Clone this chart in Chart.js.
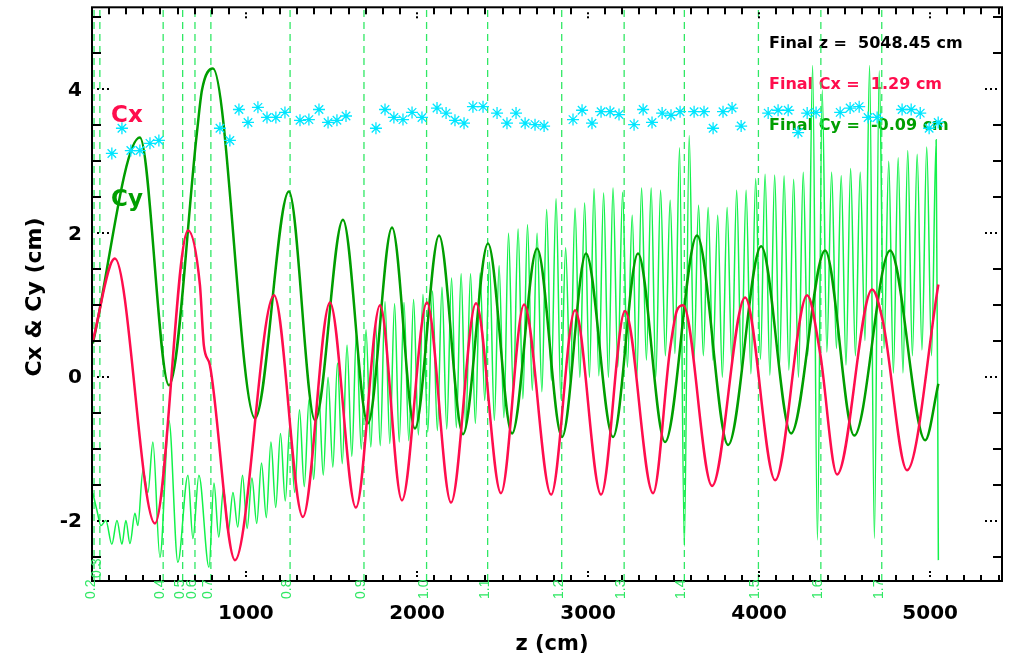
<!DOCTYPE html>
<html>
<head>
<meta charset="utf-8">
<title>Cx & Cy vs z</title>
<script src="https://cdn.jsdelivr.net/npm/chart.js@4.4.1/dist/chart.umd.min.js"></script>
<style>
  body { margin: 0; background: #fff; }
  #wrap { width: 1011px; height: 658px; }
</style>
</head>
<body>
<div id="wrap"><canvas id="chart" width="1011" height="658"></canvas></div>
<script>
// axis ranges and tick labels
const xMin = 100, xMax = 5420;
const yMin = -2.83, yMax = 5.14;
const xTickLabels = [1000, 2000, 3000, 4000, 5000];
const yTickLabels = [-2, 0, 2, 4];
const xMinorStep = 100;
const yMinorStep = 0.5;

// Cx (red)
const cxZ = [105, 234, 468, 661, 731, 754, 789, 936, 1164, 1333, 1491, 1643, 1784, 1912, 2058, 2199,
  2345, 2491, 2626, 2784, 2924, 3076, 3216, 3380, 3480, 3520, 3556, 3725, 3918, 4094, 4281, 4357,
  4456, 4661, 4725, 4865, 5048];
const cxV = [0.51, 1.65, -2.03, 2.04, 1.28, 0.44, 0.17, -2.54, 1.14, -1.94, 1.04, -1.81, 1.0, -1.71, 1.04, -1.74,
  1.03, -1.61, 1.01, -1.63, 0.93, -1.63, 0.92, -1.61, 0.40, 0.93, 1.0, -1.51, 1.11, -1.43, 1.14, 0.33,
  -1.35, 1.22, 0.76, -1.29, 1.29];

// Cy (dark green)
const cyZ = [105, 380, 550, 713, 743, 807, 1053, 1251, 1404, 1567, 1713, 1854, 1988, 2129, 2269, 2415,
  2556, 2702, 2848, 2988, 3146, 3292, 3450, 3637, 3819, 4012, 4187, 4386, 4556, 4766, 4971, 5048];
const cyV = [0.47, 3.33, -0.11, 3.39, 3.99, 4.29, -0.57, 2.58, -0.6, 2.19, -0.64, 2.08, -0.71, 1.97, -0.79, 1.86,
  -0.78, 1.79, -0.83, 1.72, -0.83, 1.72, -0.9, 1.97, -0.94, 1.82, -0.78, 1.76, -0.81, 1.76, -0.875, -0.09];

// fast oscillation (light green)
const lgZ = [105, 129, 152, 181, 216, 246, 275, 298, 322, 351, 368, 398, 427, 456, 497, 550, 602, 661, 690, 725, 784,
  813, 841, 869, 896, 924, 952, 980, 1007, 1035, 1063, 1091, 1119, 1146, 1174, 1202, 1230, 1257, 1285, 1313, 1341,
  1369, 1396, 1424, 1452, 1480, 1508, 1535, 1563, 1591, 1619, 1646, 1674, 1702, 1730, 1758, 1785, 1813, 1841, 1869, 1896,
  1924, 1952, 1980, 2008, 2035, 2063, 2091, 2119, 2146, 2174, 2202, 2230, 2258, 2285, 2313, 2341, 2369, 2396, 2424, 2452,
  2480, 2508, 2535, 2563, 2591, 2619, 2646, 2674, 2702, 2730, 2758, 2785, 2813, 2841, 2869, 2896, 2924, 2952, 2980, 3008,
  3035, 3063, 3091, 3119, 3146, 3174, 3202, 3230, 3258, 3285, 3313, 3341, 3369, 3396, 3424, 3452, 3480, 3508, 3535, 3563,
  3591, 3619, 3646, 3674, 3702, 3730, 3758, 3785, 3813, 3841, 3869, 3896, 3924, 3952, 3980, 4008, 4035, 4063, 4091, 4119,
  4146, 4174, 4202, 4230, 4258, 4285, 4313, 4341, 4369, 4396, 4424, 4452, 4480, 4508, 4535, 4563, 4591, 4619, 4646, 4674,
  4702, 4730, 4758, 4785, 4813, 4841, 4869, 4896, 4924, 4952, 4980, 5008, 5035, 5048];
const lgV = [-1.61, -1.85, -2.06, -1.99, -2.32, -1.99, -2.32, -1.99, -2.31, -1.89, -2.06, -1.29, -1.6, -0.9, -2.5, -0.6, -2.57, -1.36, -2.24, -1.36, -2.64,
  -1.47, -2.22, -1.55, -2.15, -1.6, -2.08, -1.36, -2.1, -1.4, -2.03, -1.19, -1.95, -0.9, -1.81, -0.78, -1.72, -0.65, -1.6, -0.45, -1.52,
  -0.3, -1.42, -0.15, -1.36, 0.0, -1.25, 0.2, -1.2, 0.45, -1.1, 0.62, -1.0, 0.66, -0.97, 0.75, -0.95, 1.05, -0.92, 1.02, -0.9,
  1.04, -0.88, 1.08, -0.8, 1.15, -0.76, 1.2, -0.74, 1.25, -0.72, 1.38, -0.7, 1.44, -0.68, 1.44, -0.64, 1.45, -0.32, 1.6, -0.6,
  1.55, -0.56, 2.0, -0.22, 2.06, -0.3, 2.12, -0.18, 2.0, -0.2, 2.33, -0.04, 2.48, -0.3, 1.8, -0.08, 2.35, 0.0, 2.42, 0.0,
  2.62, 0.02, 2.56, 0.0, 2.63, 0.14, 2.57, 0.14, 2.25, 0.0, 2.63, 0.24, 2.63, 0.0, 2.6, 0.3, 2.46, 0.33, 3.19, -2.35,
  3.36, 0.25, 2.39, 0.3, 2.36, 0.24, 2.25, 0.0, 2.36, 0.2, 2.6, 0.1, 2.6, 0.05, 2.76, 0.25, 2.82, 0.03, 2.81, 0.15,
  2.8, 0.1, 2.75, 0.0, 2.85, 0.3, 4.33, -2.26, 3.99, 0.35, 2.85, 0.4, 2.8, 0.17, 2.9, 0.3, 2.85, 0.51, 4.33, -2.24,
  4.26, 0.4, 3.0, 0.06, 3.05, 0.06, 3.15, 0.3, 3.1, 0.38, 3.2, 0.3, 3.3, -2.54];

// cyan asterisks
const starZ = [216, 275, 327, 380, 439, 491, 848, 906, 959, 1012, 1070, 1123, 1175, 1228, 1316, 1368, 1427, 1480, 1532, 1585,
  1760, 1813, 1865, 1918, 1971, 2029, 2117, 2170, 2222, 2275, 2327, 2386, 2468, 2526, 2579, 2632, 2690, 2743,
  2912, 2965, 3023, 3076, 3129, 3181, 3269, 3322, 3374, 3433, 3485, 3538, 3620, 3678, 3731, 3789, 3842, 3895,
  4053, 4111, 4170, 4228, 4281, 4333, 4474, 4532, 4585, 4637, 4690, 4836, 4889, 4942, 4994, 5047];
const starV = [3.11, 3.46, 3.15, 3.15, 3.25, 3.29, 3.46, 3.29, 3.72, 3.54, 3.75, 3.61, 3.61, 3.68, 3.57, 3.58, 3.72, 3.54, 3.57, 3.63,
  3.46, 3.72, 3.61, 3.58, 3.68, 3.61, 3.74, 3.67, 3.57, 3.53, 3.76, 3.76, 3.67, 3.53, 3.67, 3.53, 3.51, 3.49,
  3.58, 3.71, 3.53, 3.69, 3.69, 3.65, 3.51, 3.72, 3.54, 3.67, 3.64, 3.69, 3.69, 3.69, 3.46, 3.69, 3.74, 3.49,
  3.67, 3.71, 3.71, 3.40, 3.67, 3.68, 3.68, 3.74, 3.76, 3.61, 3.61, 3.72, 3.72, 3.67, 3.46, 3.54];

// dashed markers and their labels
const markZ = [112, 146, 516, 630, 702, 795, 1258, 1690, 2056, 2413, 2846, 3211, 3563, 3996, 4361, 4717];
const markLabels = ["0.2", "0.3", "0.4", "0.5", "0.6", "0.7", "0.8", "0.9", "1.0", "1.1", "1.2", "1.3", "1.4", "1.5", "1.6", "1.7"];

const finalZ = "5048.45", finalCx = "1.29", finalCy = "-0.09";

const RED = "#ff0d4d";
const GREEN = "#009e00";
const LIGHT = "#12f24a";
const DASH = "#30e864";
const CYAN = "#00e6ff";
const FONT = "'DejaVu Sans', 'Liberation Sans', sans-serif";

function pts(zs, vs) {
    return zs.map((z, i) => ({ x: z, y: vs[i] }));
}

// vertical dashed lines, broken with nulls
const markData = [];
markZ.forEach(z => {
    markData.push({ x: z, y: yMin }, { x: z, y: yMax }, { x: z, y: null });
});

const textPlugin = {
    id: "texts",
    beforeDatasetsDraw(chart) {
        const ctx = chart.ctx;
        ctx.save();
        ctx.textAlign = "left";
        ctx.textBaseline = "alphabetic";
        ctx.font = "bold 23px " + FONT;
        ctx.fillStyle = RED;
        ctx.fillText("Cx", 111, 122);
        ctx.fillStyle = GREEN;
        ctx.fillText("Cy", 111, 206);

        ctx.font = "bold 16px " + FONT;
        ctx.fillStyle = "#000";
        ctx.fillText("Final z =  " + finalZ + " cm", 769, 48);
        ctx.fillStyle = RED;
        ctx.fillText("Final Cx =  " + finalCx + " cm", 769, 89);
        ctx.fillStyle = GREEN;
        ctx.fillText("Final Cy =  " + finalCy + " cm", 769, 130);
        ctx.restore();
    },
    afterDraw(chart) {
        const { ctx, chartArea: a, scales: { x, y } } = chart;
        ctx.save();

        // frame
        ctx.strokeStyle = "#000";
        ctx.lineWidth = 2;
        ctx.strokeRect(a.left, a.top, a.right - a.left, a.bottom - a.top);

        // x ticks (minor solid, major dotted)
        ctx.fillStyle = "#000";
        for (let v = xMin + xMinorStep; v < xMax; v += xMinorStep) {
            const px = Math.round(x.getPixelForValue(v));
            if (v % 1000 === 0) {
                ctx.fillRect(px - 1, a.bottom - 10, 2, 2);
                ctx.fillRect(px - 1, a.bottom - 6, 2, 2);
                ctx.fillRect(px - 1, a.top + 5, 2, 2);
                ctx.fillRect(px - 1, a.top + 9, 2, 2);
            } else {
                ctx.fillRect(px - 1, a.bottom - 6, 2, 6);
                ctx.fillRect(px - 1, a.top, 2, 7);
            }
        }
        // y ticks
        for (let v = -2.5; v <= 5.0001; v += yMinorStep) {
            const py = Math.round(y.getPixelForValue(v));
            if (yTickLabels.includes(Math.round(v * 100) / 100)) {
                [5, 10, 15].forEach(d => {
                    ctx.fillRect(a.left + d, py - 1, 2, 2);
                    ctx.fillRect(a.right - d - 2, py - 1, 2, 2);
                });
            } else {
                ctx.fillRect(a.left, py - 1, 9, 2);
                ctx.fillRect(a.right - 9, py - 1, 9, 2);
            }
        }

        // tick labels
        ctx.font = "bold 20px " + FONT;
        ctx.fillStyle = "#000";
        ctx.textAlign = "center";
        ctx.textBaseline = "alphabetic";
        xTickLabels.forEach(v => ctx.fillText(String(v), x.getPixelForValue(v), 619));
        ctx.textAlign = "right";
        ctx.textBaseline = "middle";
        yTickLabels.forEach(v => ctx.fillText(String(v), 82, y.getPixelForValue(v) + 1));

        // axis titles
        ctx.textAlign = "center";
        ctx.textBaseline = "alphabetic";
        ctx.font = "bold 21px " + FONT;
        ctx.fillText("z (cm)", (a.left + a.right) / 2 + 5, 650);
        ctx.save();
        ctx.font = "bold 22px " + FONT;
        ctx.translate(41, 297);
        ctx.rotate(-Math.PI / 2);
        ctx.fillText("Cx & Cy (cm)", 0, 0);
        ctx.restore();

        // marker labels, rotated
        ctx.font = "14px 'Liberation Sans', sans-serif";
        ctx.fillStyle = DASH;
        ctx.textAlign = "left";
        markZ.forEach((z, i) => {
            const px = x.getPixelForValue(z);
            const base = i === 1 ? 578 : 599;
            ctx.save();
            ctx.translate(px + 1, base);
            ctx.rotate(-Math.PI / 2);
            ctx.fillText(markLabels[i], 0, 0);
            ctx.restore();
        });

        ctx.restore();
    }
};

new Chart(document.getElementById("chart"), {
    type: "line",
    data: {
        datasets: [
            {
                label: "stars",
                data: pts(starZ, starV),
                showLine: false,
                pointStyle: "star",
                pointRadius: 6,
                borderColor: CYAN,
                backgroundColor: CYAN,
                pointBorderWidth: 1.3,
                order: 0
            },
            {
                label: "Cx",
                data: pts(cxZ, cxV),
                borderColor: RED,
                borderWidth: 2.5,
                pointRadius: 0,
                cubicInterpolationMode: "monotone",
                order: 1
            },
            {
                label: "Cy",
                data: pts(cyZ, cyV),
                borderColor: GREEN,
                borderWidth: 2.5,
                pointRadius: 0,
                cubicInterpolationMode: "monotone",
                order: 2
            },
            {
                label: "osc",
                data: pts(lgZ, lgV),
                borderColor: LIGHT,
                borderWidth: 1.5,
                pointRadius: 0,
                cubicInterpolationMode: "monotone",
                order: 3
            },
            {
                label: "marks",
                data: markData,
                borderColor: DASH,
                borderWidth: 1.3,
                borderDash: [7, 5],
                pointRadius: 0,
                spanGaps: false,
                order: 4
            }
        ]
    },
    options: {
        responsive: false,
        animation: false,
        layout: { padding: { left: 92, right: 9, top: 7, bottom: 77 } },
        plugins: { legend: { display: false }, tooltip: { enabled: false } },
        scales: {
            x: { type: "linear", min: xMin, max: xMax, display: false },
            y: { type: "linear", min: yMin, max: yMax, display: false }
        }
    },
    plugins: [textPlugin]
});
</script>
</body>
</html>
